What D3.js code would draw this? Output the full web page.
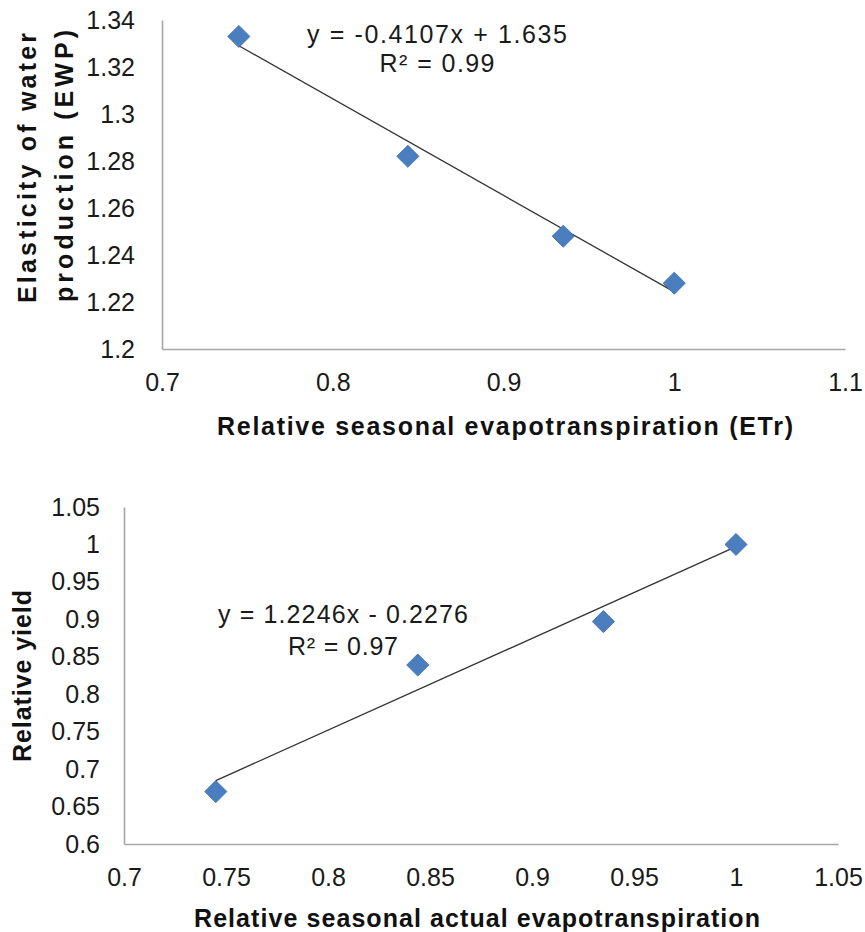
<!DOCTYPE html>
<html>
<head>
<meta charset="utf-8">
<script src="https://cdn.jsdelivr.net/npm/d3@7"></script>
<style>
  html, body { margin: 0; padding: 0; background: #fff; }
  svg { display: block; font-family: Arial, "Liberation Sans", sans-serif; }
</style>
</head>
<body>
<svg id="chart" width="865" height="932"></svg>
<script>
// ---- Top chart data ----
const topX = [0.745, 0.844, 0.935, 1.0];
const topY = [1.333, 1.282, 1.248, 1.228];
const topXTicks = [0.7, 0.8, 0.9, 1, 1.1];
const topYTicks = [1.2, 1.22, 1.24, 1.26, 1.28, 1.3, 1.32, 1.34];
const topSlope = -0.4107, topIntercept = 1.635;
const topEq = ["y = -0.4107x + 1.635", "R² = 0.99"];
const topXTitle = "Relative seasonal evapotranspiration (ETr)";
const topYTitle = ["Elasticity of water", "production (EWP)"];

// ---- Bottom chart data ----
const botX = [0.745, 0.844, 0.935, 1.0];
const botY = [0.67, 0.839, 0.897, 1.0];
const botXTicks = [0.7, 0.75, 0.8, 0.85, 0.9, 0.95, 1, 1.05];
const botYTicks = [0.6, 0.65, 0.7, 0.75, 0.8, 0.85, 0.9, 0.95, 1, 1.05];
const botSlope = 1.2246, botIntercept = -0.2276;
const botEq = ["y = 1.2246x - 0.2276", "R² = 0.97"];
const botXTitle = "Relative seasonal actual evapotranspiration";
const botYTitle = ["Relative yield"];

const svg = d3.select("#chart");
const fmt = d => String(+d.toFixed(4));
const FS = 25;

function drawChart(cfg) {
  const g = svg.append("g");
  const x = d3.scaleLinear().domain(cfg.xDomain).range([cfg.left, cfg.right]);
  const y = d3.scaleLinear().domain(cfg.yDomain).range([cfg.bottom, cfg.top]);

  const xAxis = d3.axisBottom(x).tickValues(cfg.xTicks).tickFormat(fmt).tickSize(0).tickPadding(cfg.xPad);
  const yAxis = d3.axisLeft(y).tickValues(cfg.yTicks).tickFormat(fmt).tickSize(0).tickPadding(cfg.yPad);

  const gx = g.append("g").attr("transform", `translate(0,${cfg.bottom})`).call(xAxis);
  const gy = g.append("g").attr("transform", `translate(${cfg.left},0)`).call(yAxis);
  [gx, gy].forEach(a => {
    a.attr("font-size", FS).attr("font-family", "Arial, 'Liberation Sans', sans-serif");
    a.select(".domain").attr("stroke", "#a6a6a6").attr("stroke-width", 1.6);
    a.selectAll("text").attr("font-size", FS).attr("fill", "#1a1a1a");
  });

  // trendline
  const x0 = d3.min(cfg.xs), x1 = d3.max(cfg.xs);
  g.append("line")
    .attr("x1", x(x0)).attr("y1", y(cfg.slope * x0 + cfg.intercept))
    .attr("x2", x(x1)).attr("y2", y(cfg.slope * x1 + cfg.intercept))
    .attr("stroke", "#333").attr("stroke-width", 1.3);

  // markers
  const pts = cfg.xs.map((v, i) => [v, cfg.ys[i]]);
  const sym = d3.symbol().type(d3.symbolSquare).size(245);
  g.selectAll("path.pt").data(pts).enter().append("path")
    .attr("class", "pt")
    .attr("d", sym)
    .attr("transform", d => `translate(${x(d[0])},${y(d[1])}) rotate(45)`)
    .attr("fill", "#4a7ebf")
    .attr("stroke", "#3f6fae").attr("stroke-width", 0.8);

  // equation
  cfg.eq.forEach((t, i) => {
    g.append("text").attr("x", cfg.eqX).attr("y", cfg.eqY[i])
      .attr("text-anchor", "middle").attr("font-size", FS).attr("fill", "#1a1a1a")
      .attr("textLength", cfg.eqLen[i]).attr("lengthAdjust", "spacing").text(t);
  });

  // x title
  g.append("text").attr("x", cfg.xTitleX).attr("y", cfg.xTitleY)
    .attr("text-anchor", "middle").attr("font-size", FS).attr("font-weight", "bold")
    .attr("textLength", cfg.xTitleLen).attr("lengthAdjust", "spacing")
    .attr("fill", "#111").text(cfg.xTitle);

  // y title
  cfg.yTitle.forEach((t, i) => {
    g.append("text")
      .attr("transform", `translate(${cfg.yTitleX[i]},${cfg.yTitleY[i]}) rotate(-90)`)
      .attr("text-anchor", "middle").attr("font-size", FS).attr("font-weight", "bold")
      .attr("textLength", cfg.yTitleLen[i]).attr("lengthAdjust", "spacing")
      .attr("fill", "#111").text(t);
  });
}

drawChart({
  xDomain: [0.7, 1.1], yDomain: [1.2, 1.34],
  left: 162, right: 845, top: 20, bottom: 349,
  xTicks: topXTicks, yTicks: topYTicks, xPad: 24, yPad: 27,
  xs: topX, ys: topY, slope: topSlope, intercept: topIntercept,
  eq: topEq, eqX: 437, eqY: [43, 72], eqLen: [260, 115],
  xTitle: topXTitle, xTitleX: 505, xTitleY: 435, xTitleLen: 576,
  yTitle: topYTitle, yTitleX: [36, 73], yTitleY: [168, 166], yTitleLen: [270, 272]
});

drawChart({
  xDomain: [0.7, 1.05], yDomain: [0.6, 1.05],
  left: 124, right: 838, top: 507, bottom: 844,
  xTicks: botXTicks, yTicks: botYTicks, xPad: 24, yPad: 24,
  xs: botX, ys: botY, slope: botSlope, intercept: botIntercept,
  eq: botEq, eqX: 343, eqY: [623, 655], eqLen: [250, 110],
  xTitle: botXTitle, xTitleX: 477, xTitleY: 927, xTitleLen: 566,
  yTitle: botYTitle, yTitleX: [31], yTitleY: [676], yTitleLen: [172]
});
</script>
</body>
</html>
